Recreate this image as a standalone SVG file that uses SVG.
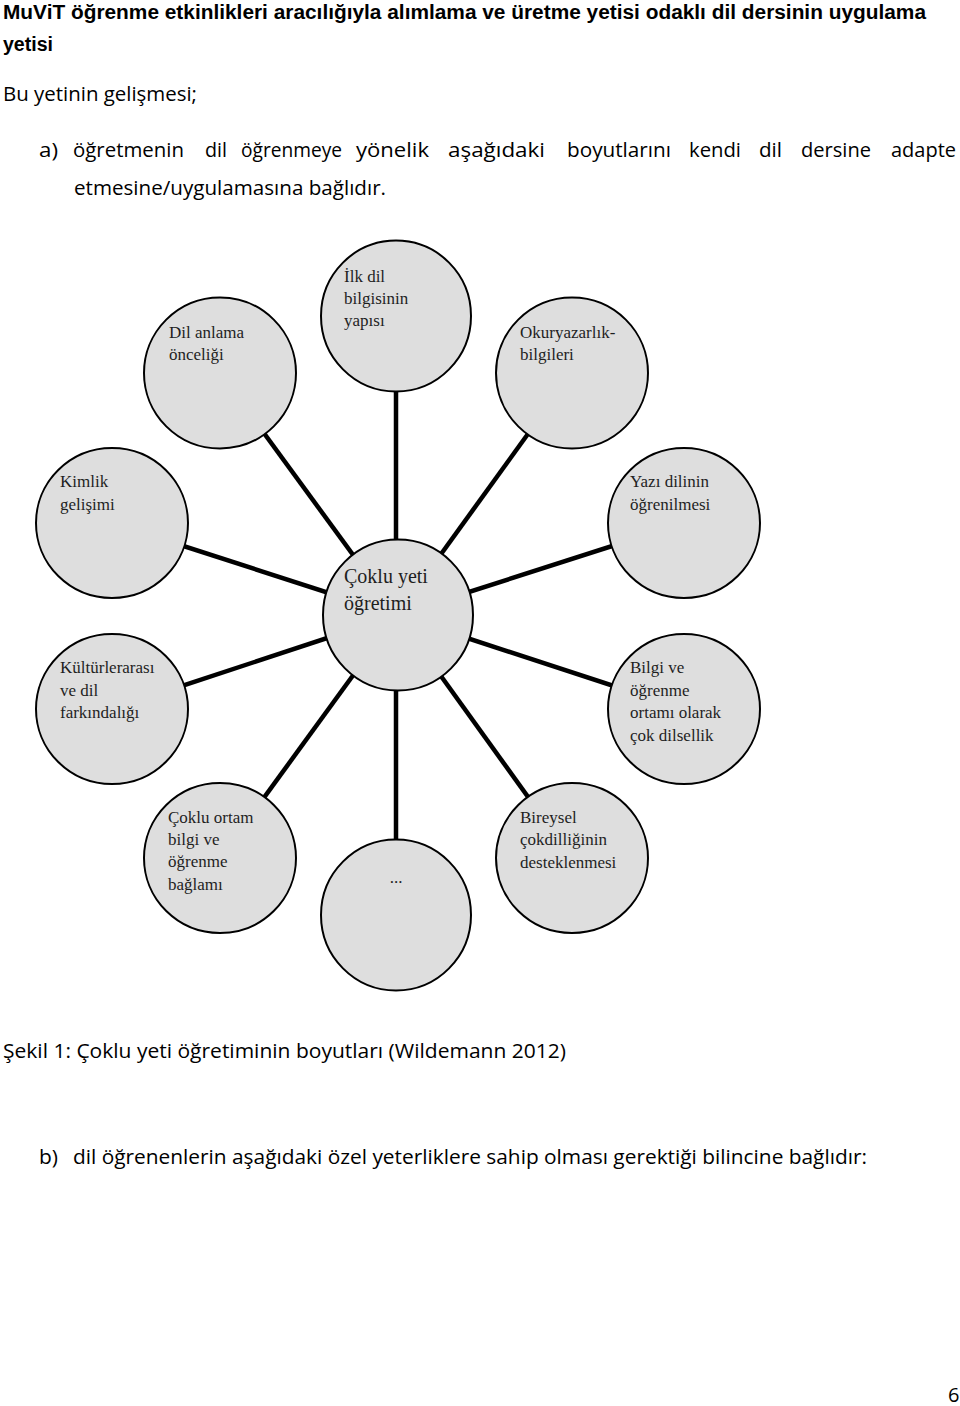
<svg xmlns="http://www.w3.org/2000/svg" width="960" height="1406" viewBox="0 0 960 1406">
<style>
.b{font-family:"Open Sans","Liberation Sans",sans-serif;font-size:20px;fill:#000}
.bb{font-family:"Liberation Sans","Open Sans",sans-serif;font-size:20px;font-weight:bold;fill:#000}
.s{font-family:"Liberation Serif","DejaVu Serif",serif;font-size:17px;fill:#1e1e1e}
.sc{font-family:"Liberation Serif","DejaVu Serif",serif;font-size:20px;fill:#1e1e1e}
.n{fill:#dedede;stroke:#000;stroke-width:2}
.c{stroke:#000;stroke-width:4.5;fill:none}
</style>
<rect width="960" height="1406" fill="#fff"/>
<g id="header">
<text class="bb" x="3" y="19" textLength="923" lengthAdjust="spacingAndGlyphs">MuViT öğrenme etkinlikleri aracılığıyla alımlama ve üretme yetisi odaklı dil dersinin uygulama</text>
<text class="bb" x="3" y="51" textLength="50" lengthAdjust="spacingAndGlyphs">yetisi</text>
<text class="b" x="3" y="101" textLength="194" lengthAdjust="spacingAndGlyphs">Bu yetinin gelişmesi;</text>
<text class="b" x="39" y="157" textLength="19" lengthAdjust="spacingAndGlyphs">a)</text>
<text class="b" x="73" y="157" textLength="111" lengthAdjust="spacingAndGlyphs">öğretmenin</text>
<text class="b" x="205" y="157" textLength="22" lengthAdjust="spacingAndGlyphs">dil</text>
<text class="b" x="241" y="157" textLength="101" lengthAdjust="spacingAndGlyphs">öğrenmeye</text>
<text class="b" x="356" y="157" textLength="73" lengthAdjust="spacingAndGlyphs">yönelik</text>
<text class="b" x="448" y="157" textLength="97" lengthAdjust="spacingAndGlyphs">aşağıdaki</text>
<text class="b" x="567" y="157" textLength="104" lengthAdjust="spacingAndGlyphs">boyutlarını</text>
<text class="b" x="689" y="157" textLength="52" lengthAdjust="spacingAndGlyphs">kendi</text>
<text class="b" x="759" y="157" textLength="23" lengthAdjust="spacingAndGlyphs">dil</text>
<text class="b" x="801" y="157" textLength="70" lengthAdjust="spacingAndGlyphs">dersine</text>
<text class="b" x="891" y="157" textLength="65" lengthAdjust="spacingAndGlyphs">adapte</text>
<text class="b" x="74" y="195" textLength="312" lengthAdjust="spacingAndGlyphs">etmesine/uygulamasına bağlıdır.</text>
</g>
<g id="connectors">
<line class="c" x1="396" y1="380" x2="396" y2="560"/>
<line class="c" x1="220" y1="373" x2="397" y2="615"/>
<line class="c" x1="572" y1="373" x2="397" y2="615"/>
<line class="c" x1="112" y1="523" x2="397" y2="615"/>
<line class="c" x1="684" y1="523" x2="397" y2="615"/>
<line class="c" x1="112" y1="709" x2="397" y2="615"/>
<line class="c" x1="684" y1="709" x2="397" y2="615"/>
<line class="c" x1="220" y1="858" x2="397" y2="615"/>
<line class="c" x1="572" y1="858" x2="397" y2="615"/>
<line class="c" x1="396" y1="670" x2="396" y2="850"/>
</g>
<g id="node-center">
<ellipse class="n" cx="398" cy="615" rx="75" ry="75.5"/>
<text class="sc" x="344" y="583">Çoklu yeti</text>
<text class="sc" x="344" y="610">öğretimi</text>
</g>
<g id="node-ilk-dil">
<ellipse class="n" cx="396" cy="316" rx="75" ry="75.5"/>
<text class="s" x="344" y="282">İlk dil</text>
<text class="s" x="344" y="304">bilgisinin</text>
<text class="s" x="344" y="326">yapısı</text>
</g>
<g id="node-dil-anlama">
<ellipse class="n" cx="220" cy="373" rx="76" ry="75.5"/>
<text class="s" x="169" y="338">Dil anlama</text>
<text class="s" x="169" y="360">önceliği</text>
</g>
<g id="node-okuryazarlik">
<ellipse class="n" cx="572" cy="373" rx="76" ry="75.5"/>
<text class="s" x="520" y="338">Okuryazarlık-</text>
<text class="s" x="520" y="360">bilgileri</text>
</g>
<g id="node-kimlik">
<ellipse class="n" cx="112" cy="523" rx="76" ry="75"/>
<text class="s" x="60" y="487">Kimlik</text>
<text class="s" x="60" y="510">gelişimi</text>
</g>
<g id="node-yazi">
<ellipse class="n" cx="684" cy="523" rx="76" ry="75"/>
<text class="s" x="630" y="487">Yazı dilinin</text>
<text class="s" x="630" y="510">öğrenilmesi</text>
</g>
<g id="node-kulturlerarasi">
<ellipse class="n" cx="112" cy="709" rx="76" ry="75"/>
<text class="s" x="60" y="673">Kültürlerarası</text>
<text class="s" x="60" y="696">ve dil</text>
<text class="s" x="60" y="718">farkındalığı</text>
</g>
<g id="node-bilgi">
<ellipse class="n" cx="684" cy="709" rx="76" ry="75"/>
<text class="s" x="630" y="673">Bilgi ve</text>
<text class="s" x="630" y="696">öğrenme</text>
<text class="s" x="630" y="718">ortamı olarak</text>
<text class="s" x="630" y="741">çok dilsellik</text>
</g>
<g id="node-coklu-ortam">
<ellipse class="n" cx="220" cy="858" rx="76" ry="75"/>
<text class="s" x="168" y="823">Çoklu ortam</text>
<text class="s" x="168" y="845">bilgi ve</text>
<text class="s" x="168" y="867">öğrenme</text>
<text class="s" x="168" y="890">bağlamı</text>
</g>
<g id="node-dots">
<ellipse class="n" cx="396" cy="915" rx="75" ry="75.5"/>
<text class="s" x="396" y="883" text-anchor="middle">...</text>
</g>
<g id="node-bireysel">
<ellipse class="n" cx="572" cy="858" rx="76" ry="75"/>
<text class="s" x="520" y="823">Bireysel</text>
<text class="s" x="520" y="845">çokdilliğinin</text>
<text class="s" x="520" y="868">desteklenmesi</text>
</g>
<g id="footer">
<text class="b" x="3" y="1058" textLength="563" lengthAdjust="spacingAndGlyphs">Şekil 1: Çoklu yeti öğretiminin boyutları (Wildemann 2012)</text>
<text class="b" x="39" y="1164" textLength="19" lengthAdjust="spacingAndGlyphs">b)</text>
<text class="b" x="73" y="1164" textLength="794" lengthAdjust="spacingAndGlyphs">dil öğrenenlerin aşağıdaki özel yeterliklere sahip olması gerektiği bilincine bağlıdır:</text>
<text class="b" x="948" y="1402">6</text>
</g>
</svg>
